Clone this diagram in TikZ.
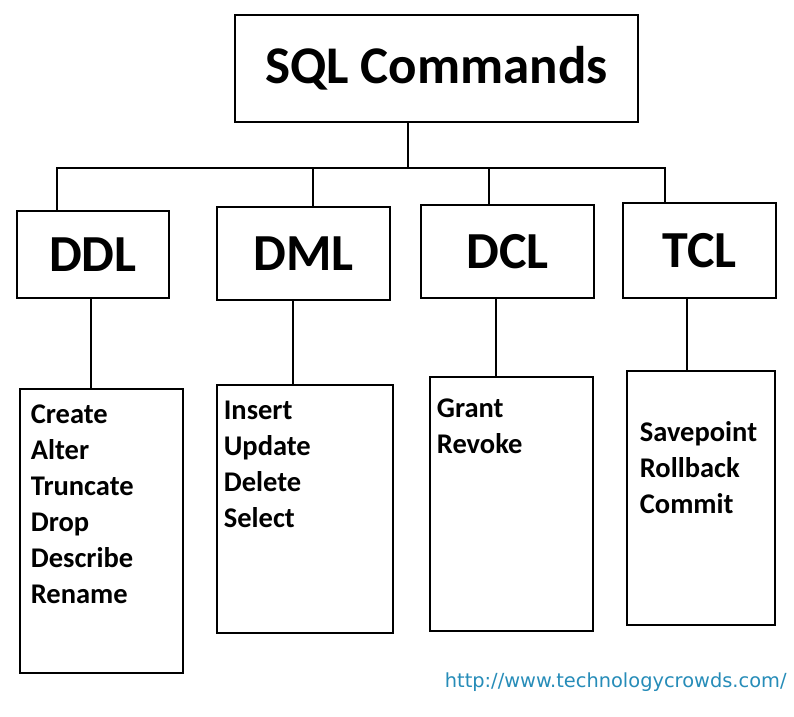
\documentclass[tikz,border=0pt]{standalone}
\usepackage{fontspec}
\setmainfont{Carlito}
\newfontfamily\urlfont{DejaVu Sans}
\usetikzlibrary{positioning}
\definecolor{linkblue}{RGB}{38,140,184}
\tikzstyle{head}=[draw, rectangle, inner sep=0pt, font=\fontsize{52}{60}\selectfont\bfseries]
\tikzstyle{cmdbox}=[draw, rectangle, inner sep=0pt]
\tikzstyle{cmd}=[anchor=base west, inner sep=0pt, font=\fontsize{28.5}{36}\selectfont\bfseries]
\tikzstyle{link}=[anchor=base west, inner sep=0pt, text=linkblue, font=\urlfont\fontsize{19.4}{22}\selectfont]

\begin{document}
\begin{tikzpicture}[x=1pt, y=-1pt, line width=1.7pt]
  \useasboundingbox (0,0) rectangle (794,716);

  \node[head, minimum width=403pt, minimum height=107pt, font=\fontsize{53}{60}\selectfont\bfseries] (sql) at (436.5,68.5) {SQL Commands};

  \node[head, minimum width=152pt, minimum height=87pt] (ddl) at (93,254.5) {DDL};
  \node[head, minimum width=173pt, minimum height=93pt] (dml) at (303.5,253.5) {DML};
  \node[head, minimum width=173pt, minimum height=93pt] (dcl) at (507.5,251.5) {DCL};
  \node[head, minimum width=153pt, minimum height=95pt] (tcl) at (699.5,250.5) {TCL};

  \node[cmdbox, minimum width=163pt, minimum height=284pt] (ddlcmd) at (101.5,531) {};
  \node[cmdbox, minimum width=176pt, minimum height=248pt] (dmlcmd) at (305,509) {};
  \node[cmdbox, minimum width=163pt, minimum height=254pt] (dclcmd) at (511.5,504) {};
  \node[cmdbox, minimum width=148pt, minimum height=254pt] (tclcmd) at (701,498) {};

  \foreach \w [count=\i] in {Create,Alter,Truncate,Drop,Describe,Rename}
    \node[cmd] (ddl\i) at (30,{423+36*(\i-1)}) {\w};
  \foreach \w [count=\i] in {Insert,Update,Delete,Select}
    \node[cmd] (dml\i) at (223,{419+36*(\i-1)}) {\w};
  \foreach \w [count=\i] in {Grant,Revoke}
    \node[cmd] (dcl\i) at (436,{417+36*(\i-1)}) {\w};
  \foreach \w [count=\i] in {Savepoint,Rollback,Commit}
    \node[cmd] (tcl\i) at (639,{441+36*(\i-1)}) {\w};

  % tree lines
  \coordinate (hub) at (408,168);
  \coordinate (b1) at (57,168);
  \coordinate (b2) at (313,168);
  \coordinate (b3) at (489,168);
  \coordinate (b4) at (665,168);
  \draw (sql.south -| hub) -- (hub);
  \draw (b1 |- ddl.north) -- (b1) -- (b4) -- (b4 |- tcl.north);
  \draw (b2) -- (b2 |- dml.north);
  \draw (b3) -- (b3 |- dcl.north);

  \foreach \n/\x in {ddl/91,dml/293,dcl/496,tcl/687}
    \draw (\x,0 |- \n.south) -- (\x,0 |- \n cmd.north);

  \node[link] (url) at (444,687) {http://www.technologycrowds.com/};
\end{tikzpicture}
\end{document}
